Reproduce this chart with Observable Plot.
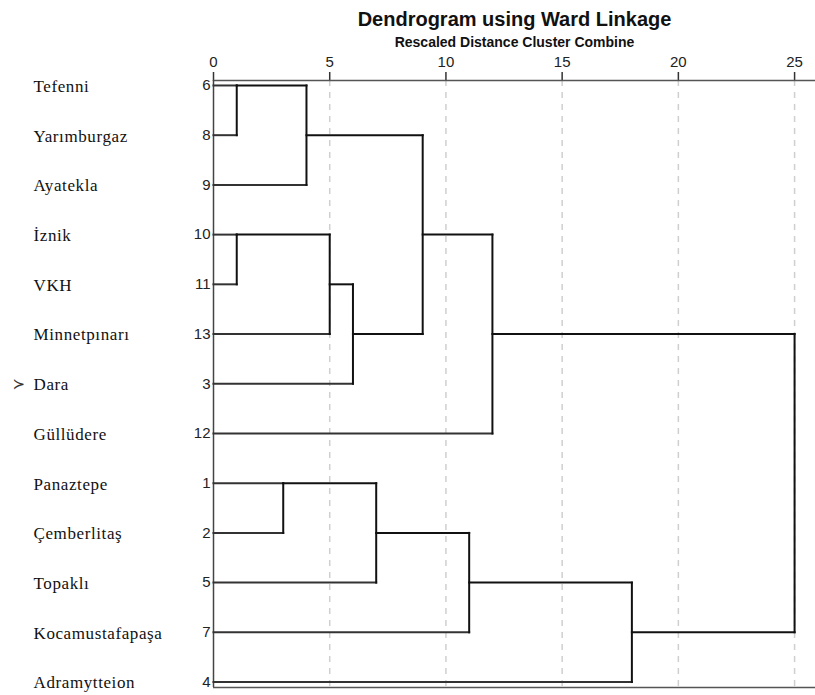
<!DOCTYPE html>
<html>
<head>
<meta charset="utf-8">
<script src="https://cdn.jsdelivr.net/npm/d3@7"></script>
<script src="https://cdn.jsdelivr.net/npm/@observablehq/plot@0.6"></script>
<style>
  html, body { margin: 0; padding: 0; background: #fff; }
</style>
</head>
<body>
<div id="chart"></div>
<script>
// Leaves in dendrogram order (top to bottom)
const leafNames = ["Tefenni", "Yarımburgaz", "Ayatekla", "İznik", "VKH", "Minnetpınarı", "Dara",
  "Güllüdere", "Panaztepe", "Çemberlitaş", "Topaklı", "Kocamustafapaşa", "Adramytteion"];
const caseNumbers = [6, 8, 9, 10, 11, 13, 3, 12, 1, 2, 5, 7, 4];
const markedLeaves = ["Dara"];

// Agglomeration: ids 0..12 are leaves, merge k creates cluster id 13 + k
const mergeLeft   = [0, 3, 8, 13, 14, 17, 15, 16, 19, 20, 21, 22];
const mergeRight  = [1, 4, 9, 2, 5, 6, 10, 18, 11, 7, 12, 23];
const mergeHeight = [1, 1, 3, 4, 5, 6, 7, 9, 11, 12, 18, 25];

const xTicks = [0, 5, 10, 15, 20, 25];
const gridTicks = [5, 10, 15, 20, 25];
const titleText = "Dendrogram using Ward Linkage";
const subtitleText = "Rescaled Distance Cluster Combine";

// Build dendrogram geometry
const n = leafNames.length;
const pos = leafNames.map((_, i) => i);
const hgt = leafNames.map(() => 0);
const segs = [];
mergeLeft.forEach((a, k) => {
  const b = mergeRight[k], h = mergeHeight[k];
  segs.push({x1: hgt[a], y1: pos[a], x2: h, y2: pos[a], leaf: a < n});
  segs.push({x1: hgt[b], y1: pos[b], x2: h, y2: pos[b], leaf: b < n});
  segs.push({x1: h, y1: pos[a], x2: h, y2: pos[b], leaf: false});
  pos.push(Math.floor((pos[a] + pos[b]) / 2));
  hgt.push(h);
});

const rows = leafNames.map((name, i) => ({name, num: caseNumbers[i], row: i, mark: markedLeaves.includes(name) ? "≻" : ""}));

const xDomain = [0, 25.9];
const yDomain = [-0.1, 12.11];
const sans = "'Liberation Sans', Arial, sans-serif";
const narrow = "'Liberation Sans Narrow', 'Arial Narrow', 'Liberation Sans', Arial, sans-serif";
const serif = "'Liberation Serif', 'Times New Roman', serif";

const chart = Plot.plot({
  width: 815,
  height: 695,
  marginLeft: 213,
  marginRight: 0,
  marginTop: 80,
  marginBottom: 8,
  style: {fontFamily: sans, fontSize: "15px", color: "#222", background: "#fff"},
  x: {domain: xDomain, axis: null},
  y: {domain: yDomain, reverse: true, axis: null},
  marks: [
    Plot.ruleX(gridTicks, {stroke: "#cfcfcf", strokeWidth: 1.5, strokeDasharray: "6,6"}),
    Plot.axisX(xTicks, {anchor: "top", tickSize: 9, tickPadding: 5, fontSize: 15, fontFamily: narrow, stroke: "#333", strokeWidth: 1.5, fill: "#222", label: null}),
    Plot.ruleY([yDomain[0]], {stroke: "#555", strokeWidth: 1.5}),
    Plot.ruleY([yDomain[1]], {stroke: "#555", strokeWidth: 1.5}),
    Plot.ruleX([0], {stroke: "#444", strokeWidth: 1.5}),
    Plot.link(segs, {x1: "x1", y1: "y1", x2: "x2", y2: "y2", stroke: d => d.leaf ? "#333" : "#111", strokeWidth: 2, strokeLinecap: "square"}),
    Plot.text(rows, {x: 0, y: "row", text: d => String(d.num), textAnchor: "end", dx: -3, fontSize: 15, fontFamily: narrow, fill: "#222"}),
    Plot.text(rows, {x: 0, y: "row", text: "name", textAnchor: "start", dx: -180, dy: 1, fontSize: 17, fontFamily: serif, fill: "#111"}),
    Plot.text(rows, {x: 0, y: "row", text: "mark", textAnchor: "start", dx: -201, fontSize: 15, fontFamily: "'DejaVu Sans', sans-serif", fill: "#333"}),
    Plot.text([titleText], {frameAnchor: "top", lineAnchor: "middle", text: d => d, dx: 0, dy: -61, fontSize: 20, fontWeight: "bold", fill: "#111"}),
    Plot.text([subtitleText], {frameAnchor: "top", lineAnchor: "middle", text: d => d, dx: 0, dy: -38, fontSize: 14, fontWeight: "bold", fill: "#111"})
  ]
});
// widen the serif row labels slightly, as in the reference rendering
d3.select(chart).selectAll("g").filter(function() {
  const f = this.getAttribute("font-family");
  return f && f.includes("Serif");
}).selectAll("text").style("letter-spacing", "0.6px");
document.getElementById("chart").appendChild(chart);
</script>
</body>
</html>
